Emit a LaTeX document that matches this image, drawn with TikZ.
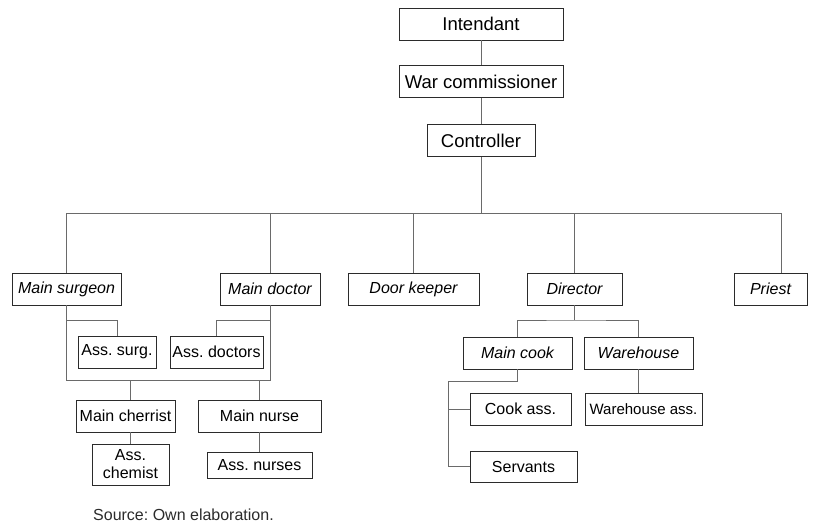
\documentclass[tikz,border=0pt]{standalone}
\usepackage{fontspec}
\setmainfont{Liberation Sans}
\usetikzlibrary{positioning}
\frenchspacing
\definecolor{ink}{HTML}{2B2B2B}
\definecolor{rule}{HTML}{6A6A6A}
\tikzset{
  box/.style={rectangle, draw=ink, fill=white, line width=0.9pt, align=center,
              font=\fontsize{18.5}{18}\selectfont, inner xsep=1pt, inner ysep=2pt,
              minimum height=32pt},
  sub/.style={box, font=\fontsize{16}{18}\selectfont},
  post/.style={box, font=\fontsize{16}{18}\selectfont\itshape},
  fl/.style={draw=rule, line width=1pt},
  src/.style={font=\fontsize{16}{18}\selectfont, text=ink, anchor=base west, inner sep=0pt}
}

\begin{document}
\begin{tikzpicture}[x=1pt, y=-1pt, node distance=25pt]
  \useasboundingbox (0,0) rectangle (817,523);
  % top of the chain
  \node[box, minimum width=164pt] (int) at (481,24) {Intendant};
  \node[box, minimum width=164pt, below=of int] (wc) {War commissioner};
  \node[box, minimum width=108pt, below=26pt of wc] (ctrl) {Controller};
  % second row
  \node[post, minimum width=109pt] (msurg) at (66.5,289) {Main surgeon};
  \node[post, minimum width=100pt] (mdoc) at (270,289) {Main doctor};
  \node[post, minimum width=131pt] (door) at (413.5,289) {Door keeper};
  \node[post, minimum width=95pt] (dir) at (574.5,289) {Director};
  \node[post, minimum width=73pt] (priest) at (770.5,289) {Priest};
  % medical staff
  \node[sub, minimum width=78pt] (asurg) at (117,352) {Ass. surg.};
  \node[sub, minimum width=93pt] (adoc) at (216.5,352) {Ass. doctors};
  \node[sub, minimum width=99pt] (mchem) at (125.5,416) {Main cherrist};
  \node[sub, minimum width=123pt] (mnurse) at (259.5,416) {Main nurse};
  \node[sub, minimum width=77pt, minimum height=41pt, inner ysep=1pt] (achem) at (130.5,464.5) {Ass.\\chemist};
  \node[sub, minimum width=105pt, minimum height=26pt, inner ysep=1pt] (anurse) at (259.5,465) {Ass. nurses};
  % kitchen and stores
  \node[post, minimum width=109pt] (mcook) at (517.5,353) {Main cook};
  \node[post, minimum width=109pt] (wh) at (638.5,353) {Warehouse};
  \node[sub, minimum width=101pt] (cookass) at (520.5,409) {Cook ass.};
  \node[sub, minimum width=107pt, minimum height=31pt] (servants) at (523.5,466.5) {Servants};
  \node[sub, minimum width=117pt, font=\fontsize{15}{18}\selectfont] (whass) at (643.5,409) {Warehouse ass.};
  \node[src] (src) at (93,520) {Source: Own elaboration.};

  \draw[fl] (int) -- (wc);
  \draw[fl] (wc) -- (ctrl);
  \coordinate (bar) at (481,213);
  \draw[fl] (ctrl) -- (bar);
  \foreach \n in {msurg,mdoc,door,dir}
    \draw[fl] (bar) -| (\n.north);
  \draw[fl] (bar) -| ([xshift=10.5pt]priest.north);

  \draw[fl] (msurg.south) -- ++(0,75) -| (mdoc.south);
  \draw[fl] (msurg.south) ++(0,15) -| (asurg.north);
  \draw[fl] (mdoc.south) ++(0,15) -| (adoc.north);
  \draw[fl] (achem.north |- mchem.north) -- ++(0,-20);
  \draw[fl] (achem.north |- mchem.south) -- (achem.north);
  \draw[fl] (mnurse.north) -- ++(0,-20);
  \draw[fl] (mnurse) -- (anurse);

  \coordinate (dj) at (574.5,320);
  \draw[fl] (dir) -- (dj);
  \draw[fl] (mcook.north) |- (dj) -| (wh.north);
  \coordinate (ck) at (448,381);
  \draw[fl] (mcook.south) |- (ck) |- (servants.west);
  \draw[fl] (ck) |- (cookass.west);
  \draw[fl] (wh.south) -- (wh.south |- whass.north);
\end{tikzpicture}
\end{document}
